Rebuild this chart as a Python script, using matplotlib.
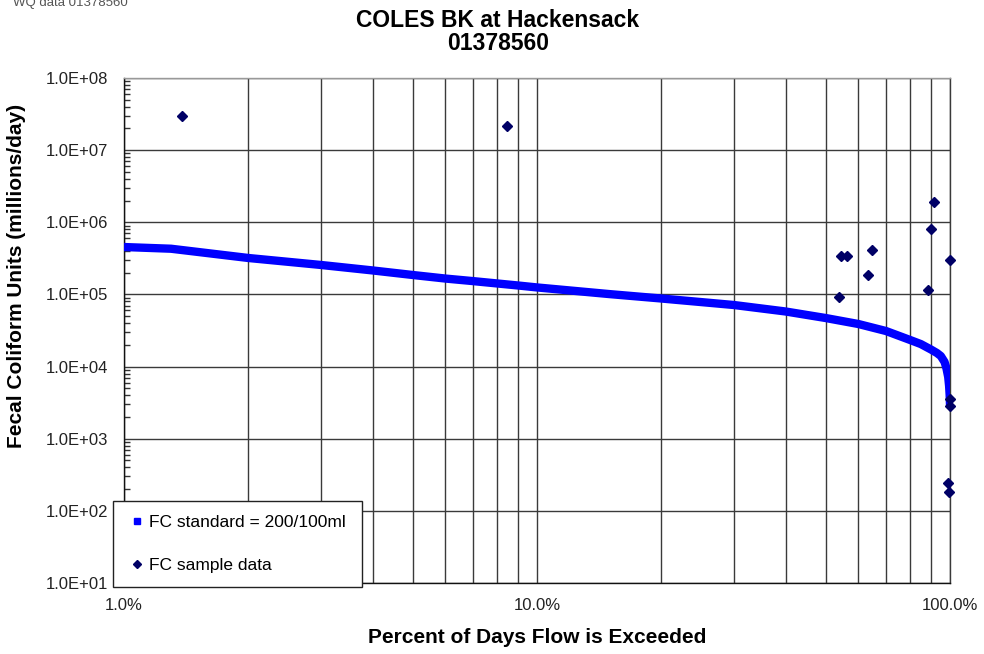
import matplotlib.pyplot as plt
from matplotlib.lines import Line2D
from matplotlib.ticker import LogLocator, FuncFormatter, NullFormatter

plt.rcParams['font.family'] = ['Liberation Sans', 'DejaVu Sans']

# load duration curve at the FC standard (200/100ml)
std_pct = [1, 1.3, 2, 3, 4, 5, 6, 7, 8, 9, 10, 15, 20, 30, 40, 50, 60, 70,
           80, 85, 90, 93, 95, 97, 98, 99, 99.5, 99.8, 100]
std_load = [4.54e5, 4.30e5, 3.20e5, 2.56e5, 2.15e5, 1.86e5, 1.66e5, 1.53e5,
            1.42e5, 1.33e5, 1.25e5, 1.01e5, 8.78e4, 7.13e4, 5.80e4, 4.71e4,
            3.89e4, 3.11e4, 2.34e4, 2.05e4, 1.72e4, 1.54e4, 1.40e4, 1.16e4,
            9.55e3, 7.17e3, 5.38e3, 4.04e3, 2.93e3]

# observed fecal coliform loads
sample_pct = [1.38, 8.46, 53.9, 54.4, 56.2, 63.2, 64.7, 88.6, 89.8, 91.3,
              100, 98.7, 99.2, 99.9, 99.9]
sample_load = [2.97e7, 2.16e7, 9.2e4, 3.4e5, 3.4e5, 1.85e5, 4.07e5, 1.16e5,
               7.96e5, 1.9e6, 2.97e5, 244, 183, 3.6e3, 2.8e3]

fig = plt.figure(figsize=(9.84, 6.54), dpi=100)
ax = fig.add_axes([124/984, 1 - 583/654, 826/984, 505/654])

ax.plot(std_pct, std_load, color='#0000ff', lw=6, solid_capstyle='butt',
        solid_joinstyle='round', zorder=3)
ax.plot(sample_pct, sample_load, ls='none', marker='D', markersize=5.5,
        color='#000066', zorder=4, clip_on=False)

ax.set_xscale('log')
ax.set_yscale('log')
ax.set_xlim(1, 100)
ax.set_ylim(10, 1e8)

ax.xaxis.set_major_locator(LogLocator(base=10, numticks=10))
ax.xaxis.set_minor_locator(LogLocator(base=10, subs=range(2, 10), numticks=100))
ax.yaxis.set_major_locator(LogLocator(base=10, numticks=20))
ax.yaxis.set_minor_locator(LogLocator(base=10, subs=range(2, 10), numticks=100))
ax.xaxis.set_major_formatter(FuncFormatter(lambda v, p: f'{v:.1f}%'))
ax.yaxis.set_major_formatter(FuncFormatter(lambda v, p: f'{v:.1E}'))
ax.xaxis.set_minor_formatter(NullFormatter())
ax.yaxis.set_minor_formatter(NullFormatter())

ax.grid(which='major', axis='both', color='#3a3a3a', lw=1.0, zorder=1)
ax.grid(which='minor', axis='x', color='#3a3a3a', lw=1.0, zorder=1)
ax.set_axisbelow(True)

ax.tick_params(axis='x', which='both', length=0, pad=10.5, labelsize=12,
               labelcolor='#222222')
ax.tick_params(axis='y', which='major', length=0, pad=11.5, labelsize=12,
               labelcolor='#222222')
ax.tick_params(axis='y', which='minor', direction='in', length=4,
               width=1, color='#333333')

for side in ['left', 'bottom']:
    ax.spines[side].set_color('#111111')
ax.spines['right'].set_color('#3a3a3a')
ax.spines['top'].set_color('#999999')
for s in ax.spines.values():
    s.set_linewidth(1.0)

fig.text(498/984, 1 - 27/654, 'COLES BK at Hackensack', ha='center',
         va='baseline', fontsize=16.5, fontweight='bold')
fig.text(498/984, 1 - 50/654, '01378560', ha='center', va='baseline',
         fontsize=16.5, fontweight='bold')
fig.text(13/984, 1 - 6/654, 'WQ data 01378560', ha='left', va='baseline',
         fontsize=9.5, color='#555555')

fig.text(537/984, 1 - 643/654, 'Percent of Days Flow is Exceeded',
         ha='center', va='baseline', fontsize=15, fontweight='bold')
fig.text(17/984, 1 - 276/654, 'Fecal Coliform Units (millions/day)',
         ha='center', va='center', rotation=90, fontsize=15,
         fontweight='bold')

handles = [
    Line2D([], [], ls='none', marker='s', markersize=5, color='#0000ff'),
    Line2D([], [], ls='none', marker='D', markersize=4.5, color='#000066'),
]
leg = fig.legend(handles, ['FC standard = 200/100ml', 'FC sample data'],
                 loc='lower left',
                 bbox_to_anchor=(113/984, 1 - 587/654, 249/984, 84/654),
                 mode='expand', borderaxespad=0, fancybox=False,
                 framealpha=1, edgecolor='#222222', fontsize=12.5,
                 labelspacing=1.6, borderpad=0.8, handlelength=1.2,
                 handletextpad=0.1)
leg.get_frame().set_linewidth(1.0)

fig.savefig('out.png', dpi=100)
